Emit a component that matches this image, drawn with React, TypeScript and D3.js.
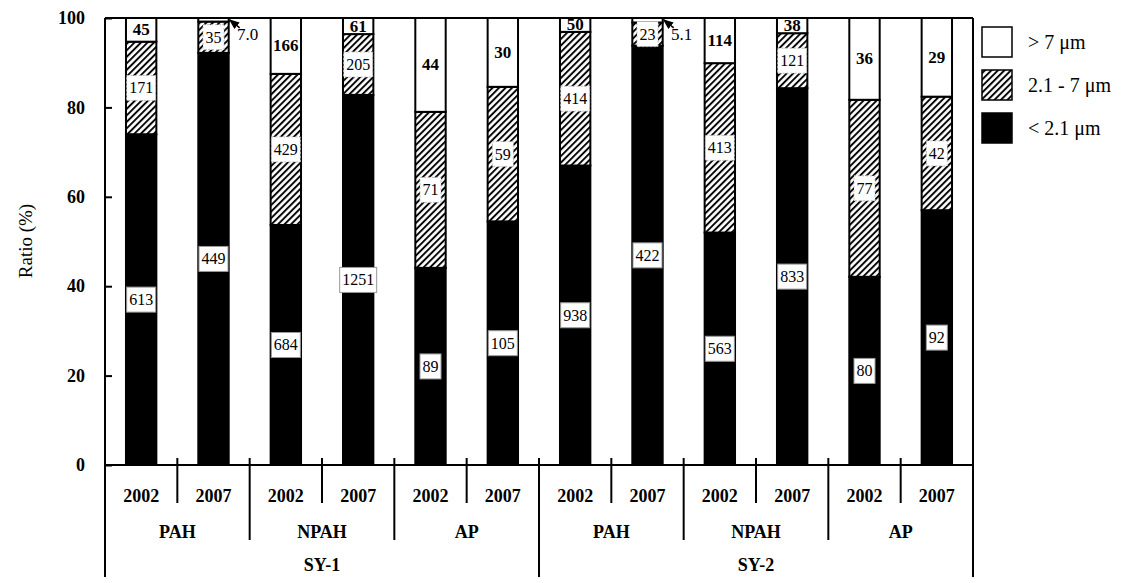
import React, { useEffect, useRef } from 'react'
import * as d3 from 'd3'

// bars, left to right
const sites = ['SY-1', 'SY-2']
const compounds = ['PAH', 'NPAH', 'AP']
const years = ['2002', '2007']

// ratio (%) of each size class per bar
const fine = [74.0, 92.2, 53.7, 82.8, 44.1, 54.5, 67.0, 93.8, 52.0, 84.3, 42.1, 57.0]
const coarse = [20.7, 7.0, 33.8, 13.6, 34.9, 30.1, 29.9, 5.2, 37.9, 12.3, 39.6, 25.4]
const large = [5.3, 0.8, 12.5, 3.6, 21.0, 15.4, 3.1, 1.0, 10.1, 3.4, 18.3, 17.6]

// numbers printed on the segments
const fineLabels = ['613', '449', '684', '1251', '89', '105', '938', '422', '563', '833', '80', '92']
const coarseLabels = ['171', '35', '429', '205', '71', '59', '414', '23', '413', '121', '77', '42']
const largeLabels = ['45', '7.0', '166', '61', '44', '30', '50', '5.1', '114', '38', '36', '29']
// segments too thin for a label get an arrow instead
const arrowLabelled = [false, true, false, false, false, false, false, true, false, false, false, false]

const yTicks = [0, 20, 40, 60, 80, 100]
const legendLabels = ['> 7 \u03bcm', '2.1 - 7 \u03bcm', '< 2.1 \u03bcm']

const font = "'Liberation Serif', 'DejaVu Serif', serif"

export default function App() {
  const ref = useRef<SVGSVGElement>(null)

  useEffect(() => {
    const svg = d3.select(ref.current)
    svg.selectAll('*').remove()

    const left = 105, right = 973, top = 18, base = 465, bottom = 577

    const keys: string[] = []
    sites.forEach(s => compounds.forEach(c => years.forEach(yr => keys.push(s + '|' + c + '|' + yr))))

    const x = d3.scaleBand().domain(keys).range([left, right])
    const y = d3.scaleLinear().domain([0, 100]).range([base, top])
    const barW = x.bandwidth() * 0.42

    const defs = svg.append('defs')
    const pat = defs.append('pattern')
      .attr('id', 'hatch')
      .attr('patternUnits', 'userSpaceOnUse')
      .attr('width', 4.6)
      .attr('height', 4.6)
      .attr('patternTransform', 'rotate(45)')
    pat.append('rect').attr('width', 4.6).attr('height', 4.6).attr('fill', '#fff')
    pat.append('line').attr('x1', 1).attr('y1', 0).attr('x2', 1).attr('y2', 4.6)
      .attr('stroke', '#000').attr('stroke-width', 1.9)

    defs.append('marker')
      .attr('id', 'arrow')
      .attr('viewBox', '0 0 10 10')
      .attr('refX', 9).attr('refY', 5)
      .attr('markerWidth', 7).attr('markerHeight', 7)
      .attr('orient', 'auto')
      .append('path').attr('d', 'M0,1 L10,5 L0,9 Z').attr('fill', '#000')

    const stack = keys.map((k, i) => ({
      key: k,
      segs: [
        { y0: 0, y1: fine[i], fill: '#000', label: fineLabels[i], kind: 'fine' },
        { y0: fine[i], y1: fine[i] + coarse[i], fill: 'url(#hatch)', label: coarseLabels[i], kind: 'coarse' },
        { y0: fine[i] + coarse[i], y1: fine[i] + coarse[i] + large[i], fill: '#fff', label: largeLabels[i], kind: 'large' }
      ],
      arrow: arrowLabelled[i]
    }))

    const bars = svg.append('g')
    stack.forEach(b => {
      const cx = (x(b.key) as number) + x.bandwidth() / 2
      b.segs.forEach(s => {
        bars.append('rect')
          .attr('x', cx - barW / 2)
          .attr('y', y(s.y1))
          .attr('width', barW)
          .attr('height', y(s.y0) - y(s.y1))
          .attr('fill', s.fill)
          .attr('stroke', '#000')
          .attr('stroke-width', 2)
      })
    })

    // segment labels
    const labels = svg.append('g').style('font-family', font)
    stack.forEach(b => {
      const cx = (x(b.key) as number) + x.bandwidth() / 2
      b.segs.forEach(s => {
        if (s.kind === 'large' && b.arrow) {
          const tx = cx + barW / 2 + 19
          labels.append('text')
            .attr('x', tx).attr('y', y(96.3))
            .attr('text-anchor', 'middle')
            .attr('dominant-baseline', 'central')
            .style('font-size', '17px')
            .text(s.label)
          labels.append('line')
            .attr('x1', cx + barW / 2 + 11).attr('y1', y(97.8))
            .attr('x2', cx + barW / 2 + 1).attr('y2', y(99.6))
            .attr('stroke', '#000').attr('stroke-width', 1.5)
            .attr('marker-end', 'url(#arrow)')
          return
        }
        const cy = y((s.y0 + s.y1) / 2)
        const g = labels.append('g')
        const t = g.append('text')
          .attr('x', cx).attr('y', cy)
          .attr('text-anchor', 'middle')
          .attr('dominant-baseline', 'central')
          .style('font-size', s.kind === 'large' ? '17px' : '16px')
          .style('font-weight', s.kind === 'large' ? 'bold' : 'normal')
          .text(s.label)
        if (s.kind !== 'large') {
          const w = (t.node() as SVGTextElement).getComputedTextLength() + 5
          const h = 25
          g.insert('rect', 'text')
            .attr('x', cx - w / 2)
            .attr('y', Math.max(cy - h / 2, top + 1))
            .attr('width', w)
            .attr('height', h)
            .attr('fill', '#fff')
            .attr('stroke', s.kind === 'fine' ? '#999' : '#bbb')
            .attr('stroke-width', 1)
            .attr('stroke-dasharray', s.kind === 'coarse' ? '2,2' : null)
        }
      })
    })

    // y axis
    const yAxis = svg.append('g')
      .attr('transform', 'translate(' + left + ',0)')
      .call(d3.axisLeft(y).tickValues(yTicks).tickSize(-7).tickPadding(20))
    yAxis.attr('font-family', null)
    yAxis.select('.domain').remove()
    yAxis.selectAll('line').attr('stroke', '#000').attr('stroke-width', 2)
    yAxis.selectAll('text')
      .style('font-family', font)
      .style('font-size', '18px')
      .style('font-weight', 'bold')
      .attr('fill', '#000')

    // frame
    const frame = svg.append('g').attr('stroke', '#000').attr('stroke-width', 2).attr('fill', 'none')
    frame.append('line').attr('x1', left).attr('y1', top).attr('x2', right).attr('y2', top)
    frame.append('line').attr('x1', left).attr('y1', base).attr('x2', right).attr('y2', base)
    frame.append('line').attr('x1', left).attr('y1', top).attr('x2', left).attr('y2', bottom)
    frame.append('line').attr('x1', right).attr('y1', top).attr('x2', right).attr('y2', bottom)

    // hierarchical x axis
    const step = x.step()
    keys.forEach((k, i) => {
      if (i === 0) return
      const sx = x(k) as number
      let y2 = 503
      if (i % 2 === 0) y2 = 540
      if (i % 6 === 0) y2 = bottom
      frame.append('line').attr('x1', sx).attr('y1', base - 7).attr('x2', sx).attr('y2', y2)
    })

    const axisText = svg.append('g')
      .style('font-family', font)
      .style('font-size', '18px')
      .style('font-weight', 'bold')
      .attr('text-anchor', 'middle')
      .attr('dominant-baseline', 'central')
    keys.forEach((k, i) => {
      axisText.append('text')
        .attr('x', (x(k) as number) + step / 2)
        .attr('y', 496)
        .text(years[i % 2])
    })
    sites.forEach(s => {
      compounds.forEach(c => {
        const first = keys.indexOf(s + '|' + c + '|' + years[0])
        axisText.append('text')
          .attr('x', (x(keys[first]) as number) + step)
          .attr('y', 532)
          .text(c)
      })
      const first = keys.indexOf(s + '|' + compounds[0] + '|' + years[0])
      axisText.append('text')
        .attr('x', (x(keys[first]) as number) + step * 3)
        .attr('y', 565)
        .text(s)
    })

    svg.append('text')
      .attr('transform', 'translate(25,241) rotate(-90)')
      .attr('text-anchor', 'middle')
      .attr('dominant-baseline', 'central')
      .style('font-family', font)
      .style('font-size', '19px')
      .text('Ratio (%)')

    // legend
    const legendFills = ['#fff', 'url(#hatch)', '#000']
    const legend = svg.append('g')
    legendLabels.forEach((l, i) => {
      const ly = 27 + i * 43
      legend.append('rect')
        .attr('x', 982).attr('y', ly)
        .attr('width', 30).attr('height', 30)
        .attr('fill', legendFills[i])
        .attr('stroke', '#000').attr('stroke-width', 1.5)
      legend.append('text')
        .attr('x', 1028).attr('y', ly + 15)
        .attr('dominant-baseline', 'central')
        .style('font-family', font)
        .style('font-size', '20px')
        .text(l)
    })
  }, [])

  return (
    <svg
      ref={ref}
      width={1141}
      height={583}
      style={{ position: 'absolute', left: 0, top: 0, background: '#fff' }}
    />
  )
}
